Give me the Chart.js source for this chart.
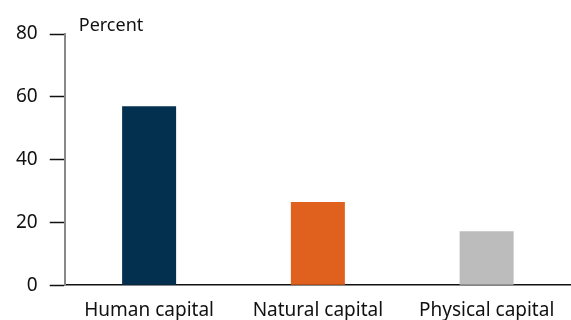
<!DOCTYPE html>
<html>
<head>
<meta charset="utf-8">
<script src="https://cdn.jsdelivr.net/npm/chart.js@4"></script>
<style>
  html, body { margin: 0; padding: 0; background: #fff; overflow: hidden; }
  #wrap { width: 571px; height: 336px; position: relative; }
</style>
</head>
<body>
<div id="wrap"><canvas id="chart"></canvas></div>
<script>
const categories = ["Human capital", "Natural capital", "Physical capital"];
const shares = [57, 26.5, 17.2];
const barColors = ["#04304f", "#e0611d", "#bcbcbc"];
const yTicks = [0, 20, 40, 60, 80];
const unitLabel = "Percent";

const font = "'Noto Sans', 'Open Sans', sans-serif";

// draws the "Percent" unit label just above the top of the y axis
const unitPlugin = {
  id: "unitLabel",
  afterDraw(chart) {
    const ctx = chart.ctx;
    const area = chart.chartArea;
    ctx.save();
    ctx.fillStyle = "#111";
    ctx.font = "18px " + font;
    ctx.textAlign = "left";
    ctx.textBaseline = "alphabetic";
    ctx.fillText(unitLabel, area.left + 14, area.top - 3);
    ctx.restore();
  },
};

new Chart(document.getElementById("chart"), {
  type: "bar",
  data: {
    labels: categories,
    datasets: [
      {
        data: shares,
        backgroundColor: barColors,
        barPercentage: 0.32,
        categoryPercentage: 1,
      },
    ],
  },
  options: {
    responsive: true,
    maintainAspectRatio: false,
    animation: false,
    layout: { padding: { top: 34, right: 0, left: 4, bottom: 0 } },
    plugins: {
      legend: { display: false },
      tooltip: { enabled: false },
    },
    scales: {
      x: {
        grid: { display: false, drawTicks: false },
        border: { color: "#111", width: 1.5 },
        ticks: { color: "#111", font: { family: font, size: 19 }, padding: 14 },
      },
      y: {
        min: 0,
        max: 80,
        afterBuildTicks: (axis) => {
          axis.ticks = yTicks.map((v) => ({ value: v }));
        },
        grid: { drawOnChartArea: false, drawTicks: true, tickLength: 15, tickColor: "#111", tickWidth: 1.5 },
        border: { color: "#888", width: 2 },
        ticks: { color: "#111", font: { family: font, size: 19 }, padding: 12 },
      },
    },
  },
  plugins: [unitPlugin],
});
</script>
</body>
</html>
